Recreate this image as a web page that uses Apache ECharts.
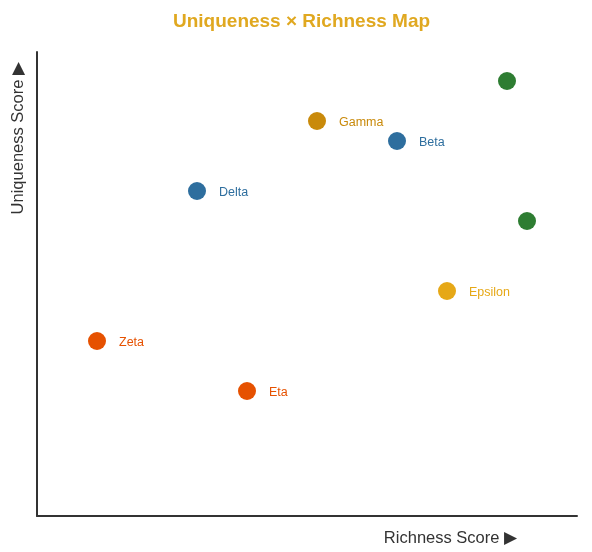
<!DOCTYPE html>
<html><head><meta charset="utf-8">
<script src="https://cdn.jsdelivr.net/npm/echarts@6/dist/echarts.min.js"></script>
<style>html,body{margin:0;padding:0;background:#fff}#c{width:592px;height:552px}</style>
</head><body><div id="c"></div>
<script>
var names = ['', '', 'Gamma', 'Beta', 'Delta', 'Epsilon', 'Zeta', 'Eta'];
var richness = [9.4, 9.8, 5.6, 7.2, 3.2, 8.2, 1.2, 4.2];
var uniqueness = [8.7, 5.9, 7.9, 7.5, 6.5, 4.5, 3.5, 2.5];
var groups = ['g', 'g', 'gold', 'b', 'b', 'y', 'o', 'o'];
var palette = {g: '#2e7d32', gold: '#c98a0b', b: '#2e6e9e', y: '#e6a817', o: '#e65100'};

var data = names.map(function (n, i) {
  return {
    name: n,
    value: [richness[i], uniqueness[i]],
    itemStyle: {color: palette[groups[i]], opacity: 1},
    label: {show: n !== '', color: palette[groups[i]]}
  };
});

var FF = 'Liberation Sans, Arial, sans-serif';
var chart = echarts.init(document.getElementById('c'));
chart.setOption({
  animation: false,
  title: {
    text: 'Uniqueness × Richness Map',
    left: 168, top: 7,
    textStyle: {color: '#e0a820', fontSize: 19, fontWeight: 'bold', fontFamily: FF}
  },
  grid: {left: 37, right: 15, top: 52, bottom: 36, containLabel: false},
  xAxis: {
    type: 'value', min: 0, max: 10.8,
    name: 'Richness Score ▶', nameLocation: 'end', nameGap: -60,
    nameTextStyle: {align: 'right', verticalAlign: 'top', padding: [14, 0, 0, 0], fontSize: 16.5, color: '#333', fontFamily: FF},
    axisLine: {show: true, lineStyle: {color: '#333', width: 2}},
    axisTick: {show: false}, axisLabel: {show: false}, splitLine: {show: false}
  },
  yAxis: {
    type: 'value', min: 0, max: 9.28,
    name: 'Uniqueness Score ▶', nameLocation: 'end', nameGap: -10, nameRotate: 90,
    nameTextStyle: {align: 'right', verticalAlign: 'bottom', padding: [0, 0, 10, 0], fontSize: 16.5, color: '#333', fontFamily: FF},
    axisLine: {show: true, lineStyle: {color: '#333', width: 2}},
    axisTick: {show: false}, axisLabel: {show: false}, splitLine: {show: false}
  },
  series: [{
    type: 'scatter',
    symbolSize: 18,
    data: data,
    label: {position: 'right', distance: 13, offset: [0, 1.5], formatter: '{b}', fontSize: 12.5, fontFamily: FF},
    emphasis: {disabled: true}
  }]
});
</script></body></html>
